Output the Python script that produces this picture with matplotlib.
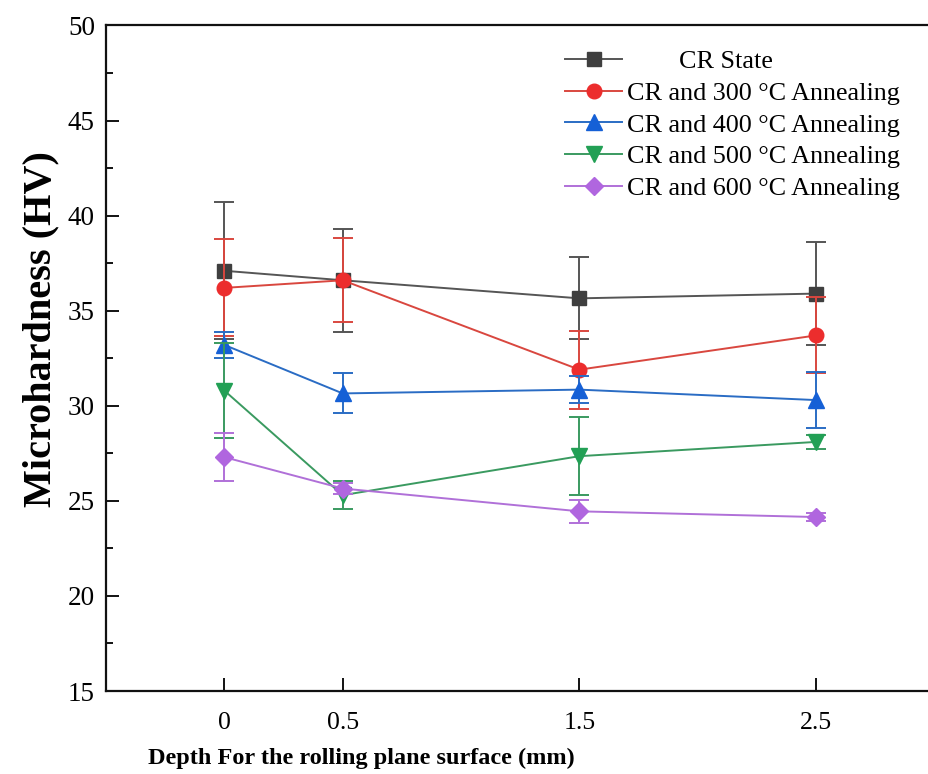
import matplotlib
matplotlib.use("Agg")
import matplotlib.pyplot as plt
from matplotlib.ticker import MultipleLocator

plt.rcParams['font.family'] = ['Liberation Serif', 'DejaVu Serif']
plt.rcParams['mathtext.fontset'] = 'stix'

# Depth below the rolling plane surface (mm)
depth = [0, 0.5, 1.5, 2.5]
tick_labels = ['0', '0.5', '1.5', '2.5']

# Microhardness (HV) mean values and error bars
cr_state = [37.1, 36.6, 35.65, 35.9]
cr_state_err = [3.6, 2.7, 2.15, 2.7]

cr_300 = [36.2, 36.6, 31.9, 33.7]
cr_300_err = [2.55, 2.2, 2.05, 2.0]

cr_400 = [33.2, 30.65, 30.85, 30.3]
cr_400_err = [0.7, 1.05, 0.7, 1.48]

cr_500 = [30.8, 25.3, 27.35, 28.1]
cr_500_err = [2.5, 0.75, 2.05, 0.35]

cr_600 = [27.3, 25.65, 24.45, 24.15]
cr_600_err = [1.25, 0.3, 0.6, 0.2]

labels = ['        CR State',
          'CR and 300 \u00b0C Annealing',
          'CR and 400 \u00b0C Annealing',
          'CR and 500 \u00b0C Annealing',
          'CR and 600 \u00b0C Annealing']

series = [
    (cr_state, cr_state_err, '#3f3f3f', '#555555', 's', 9.5),
    (cr_300, cr_300_err, '#ec2d2d', '#d9473f', 'o', 10.5),
    (cr_400, cr_400_err, '#1560d6', '#2a6cc4', '^', 11),
    (cr_500, cr_500_err, '#22a055', '#3a9a60', 'v', 11),
    (cr_600, cr_600_err, '#b066df', '#b070d8', 'D', 9),
]

fig = plt.figure(figsize=(9.29, 7.74), dpi=100)
ax = fig.add_axes([0.1141, 0.1072, 0.8917, 0.8599])

for (vals, errs, mcol, lcol, mk, ms), lab in zip(series, labels):
    ax.errorbar(depth, vals, yerr=errs, fmt='none', ecolor=lcol,
                elinewidth=1.4, capsize=7, capthick=1.4)
    ax.plot(depth, vals, color=lcol, lw=1.4, marker=mk, markersize=ms,
            markerfacecolor=mcol, markeredgecolor=mcol, label=lab)

ax.set_xlim(-0.5, 3.0)
ax.set_ylim(15, 50)
ax.set_xticks(depth)
ax.set_xticklabels(tick_labels)
ax.yaxis.set_major_locator(MultipleLocator(5))
ax.yaxis.set_minor_locator(MultipleLocator(2.5))

for side in ['left', 'bottom', 'top', 'right']:
    ax.spines[side].set_linewidth(1.6)
    ax.spines[side].set_color('#111111')

ax.tick_params(axis='both', which='major', direction='in', length=9.5,
               width=1.3, labelsize=19.5, top=False, right=False, pad=8)
ax.tick_params(axis='y', which='minor', direction='in', length=5,
               width=1.3, right=False)
ax.tick_params(axis='x', labelsize=18.5, pad=15)

ax.set_xlabel('Depth For the rolling plane surface (mm)', fontsize=17.5,
              fontweight='bold')
ax.xaxis.set_label_coords(0.308, -0.086)
ax.set_ylabel('Microhardness (HV)', fontsize=29, fontweight='bold')
ax.yaxis.set_label_coords(-0.056, 0.544)

ax.legend(loc='upper left', bbox_to_anchor=(0.608, 0.936),
          bbox_transform=fig.transFigure, frameon=False, fontsize=18.8,
          handlelength=2.2, handletextpad=0.2, labelspacing=0.33,
          borderpad=0, borderaxespad=0)

fig.savefig('out.png', dpi=100)
